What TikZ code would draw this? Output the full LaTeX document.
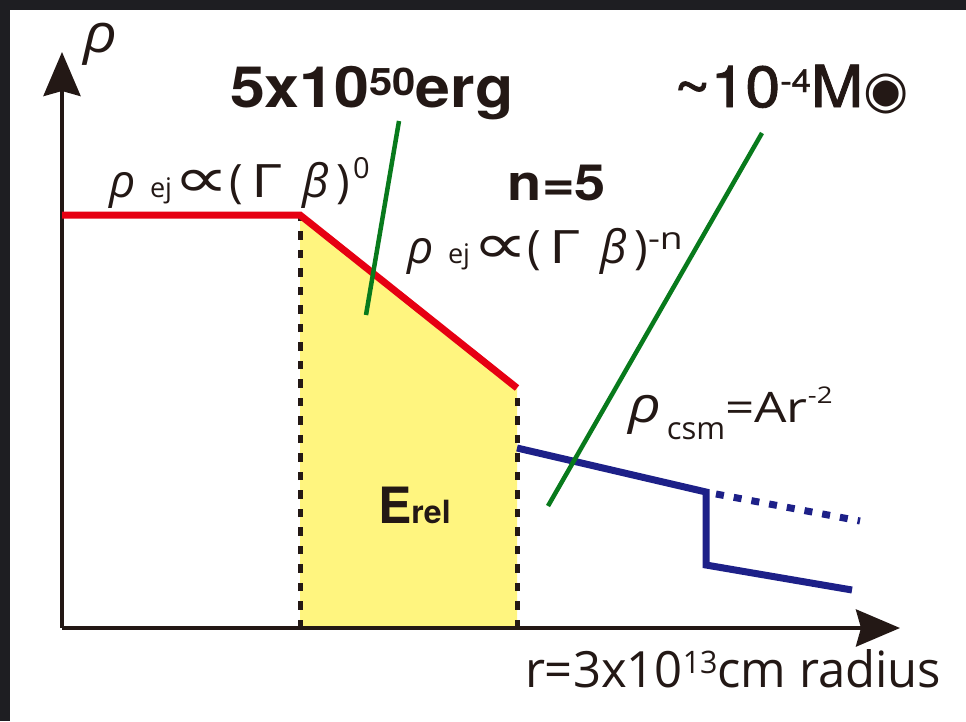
\documentclass[tikz,border=0pt]{standalone}
\usepackage{fontspec}
\setmainfont{Open Sans}
\newfontfamily\hv{TeX Gyre Heros}
\newfontfamily\hvmed[FakeBold=1.5]{TeX Gyre Heros}
\newfontfamily\djfont{DejaVu Sans}
\usetikzlibrary{arrows.meta}
\definecolor{framebg}{RGB}{30,30,34}
\definecolor{axiscol}{RGB}{35,24,21}
\definecolor{yel}{RGB}{255,245,127}
\definecolor{redc}{RGB}{230,0,18}
\definecolor{navy}{RGB}{29,32,136}
\definecolor{grn}{RGB}{8,122,28}
\newcommand\fs[1]{\fontsize{#1}{#1}\selectfont}
\newcommand\up[3]{\raisebox{#1pt}{\fs{#2}#3}}
\newcommand\slot[3]{\makebox[#1pt][#2]{#3}}
% rho_ej prop (Gamma beta) with measured slots
\newcommand\ejlab[1]{\fs{46}%
  \slot{41}{l}{\itshape ρ}%
  \slot{25}{l}{\fs{27}ej}%
  \slot{54}{c}{\djfont\fs{56}\scalebox{1.4}[1]{∝}}%
  \slot{14}{c}{(}%
  \slot{49}{c}{\scalebox{1.3}[1]{Γ}}%
  \slot{47}{c}{\itshape β}%
  \slot{8}{c}{)}#1}
\begin{document}
\begin{tikzpicture}[x=1pt,y=-1pt,
  lbl/.style={inner sep=0pt,outer sep=0pt,anchor=base west,text=axiscol},
  axisline/.style={line width=4pt,draw=axiscol,-{Stealth[length=44pt,width=37pt,inset=5pt]}},
  dashline/.style={line width=5pt,draw=axiscol,dash pattern=on 8.5pt off 10pt},
  redline/.style={line width=7pt,draw=redc,line join=miter},
  blueline/.style={line width=7pt,draw=navy,line join=miter},
  greenline/.style={line width=4.5pt,draw=grn}]
\useasboundingbox (0,0) rectangle (966,721);
\fill[framebg] (0,0) rectangle (966,721);
\fill[white] (10,10) rectangle (966,721);
% key points
\coordinate (O) at (62,628);
\coordinate (ytip) at (62,52);
\coordinate (xtip) at (900,628);
\coordinate (r0) at (62,215);
\coordinate (r1) at (300,215);
\coordinate (r2) at (517,388);
\coordinate (b1) at (300,628);
\coordinate (b2) at (517,628);
\coordinate (c0) at (517,448);
\coordinate (c1) at (706,492);
\coordinate (c2) at (706,565);
\coordinate (c3) at (852,590);
\coordinate (d0) at (716,494);
\coordinate (d1) at (860,521);
\coordinate (g1a) at (399,121);
\coordinate (g1b) at (366,315);
\coordinate (g2a) at (762,133);
\coordinate (g2b) at (548,506);
% yellow region
\fill[yel] (r1) -- (r2) -- (b2) -- (b1) -- cycle;
\draw[dashline] (b1) -- (r1);
\draw[dashline] (b2) -- (r2);
% axes
\draw[axisline] (O) -- (ytip);
\draw[axisline] (O) -- (xtip);
% ejecta
\draw[redline] (r0) -- (r1) -- (r2);
% csm
\draw[blueline] (c0) -- (c1) -- (c2) -- (c3);
\draw[blueline,dash pattern=on 8pt off 10pt] (d0) -- (d1);
% green pointers
\draw[greenline] (g1a) -- (g1b);
\draw[greenline] (g2a) -- (g2b);
% labels
\node[lbl] (rholab) at (83,52) {\fs{54}\itshape\scalebox{1.1}[1]{ρ}};
\node[lbl] (ej0) at (109,197) {\ejlab{\hspace{6pt}\up{19}{29}{0}}};
\node[lbl] (ejn) at (407,263) {\ejlab{\hspace{3pt}\up{14}{31}{\scalebox{1.2}[1]{-n}}}};
\node[lbl] (csm) at (628,422) {\fs{42}{\itshape\fs{50}\scalebox{1.15}[1]{ρ}}\hspace{6pt}\raisebox{-17pt}{\fs{31}csm}\scalebox{1.22}[1]{=Ar}\up{19}{23}{\scalebox{1.2}[1]{-2}}};
\node[lbl,anchor=base] (nfive) at (557,200) {\hv\bfseries\fs{50}\scalebox{1.12}[1]{n=5}};
\node[lbl] (energy) at (230,107) {\hv\bfseries\fs{57}\scalebox{1.1}[1]{5x10\up{12}{38}{50}erg}};
\node[lbl] (mass) at (674,107) {\hvmed\fs{58}\scalebox{1.08}[1]{\textasciitilde 10\up{15}{32}{-4}M}{\djfont\fs{52}◉}};
\node[lbl] (erel) at (378,523) {\hv\bfseries\fs{50}E\fs{32}rel};
\node[lbl] (radius) at (525,687) {\scalebox{0.98}[1]{\fs{50}r=3x10\up{14}{31}{13}cm radius}};
\end{tikzpicture}
\end{document}
